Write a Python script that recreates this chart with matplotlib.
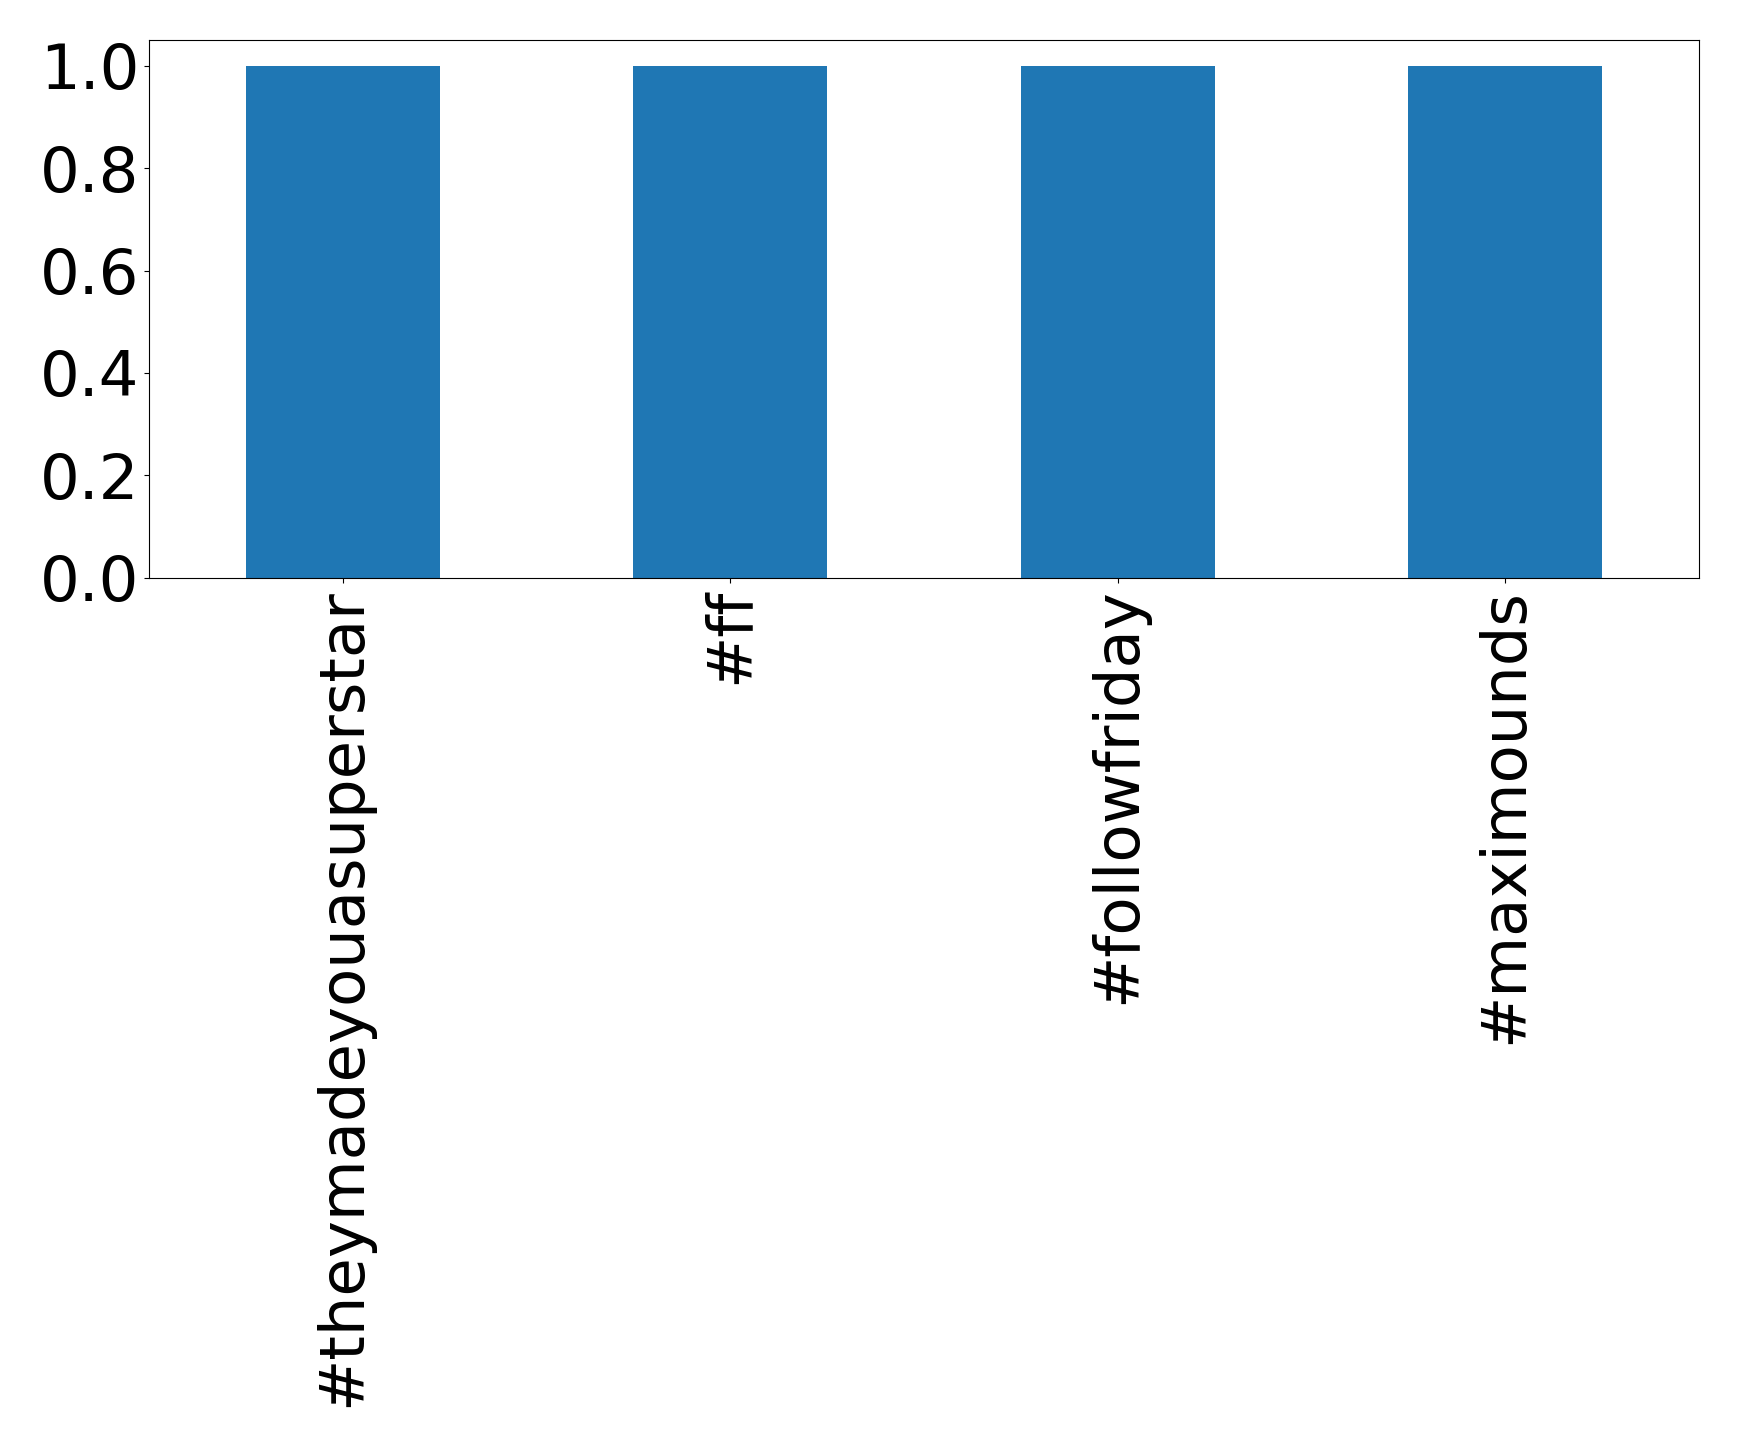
import matplotlib
matplotlib.use("Agg")
import matplotlib.pyplot as plt
import pandas as pd

# hashtag counts
hashtags = ['#theymadeyouasuperstar', '#ff', '#followfriday', '#maximounds']
counts = [1, 1, 1, 1]

s = pd.Series(counts, index=hashtags)

fig = plt.figure(figsize=(17.39, 14.47), dpi=100)
ax = fig.add_axes([0.0857, 0.6006, 0.8913, 0.3718])
s.plot(kind='bar', ax=ax, color='#1f77b4')
ax.tick_params(axis='both', labelsize=45)
ax.set_yticks([0.0, 0.2, 0.4, 0.6, 0.8, 1.0])
fig.savefig('out.png', dpi=100)
